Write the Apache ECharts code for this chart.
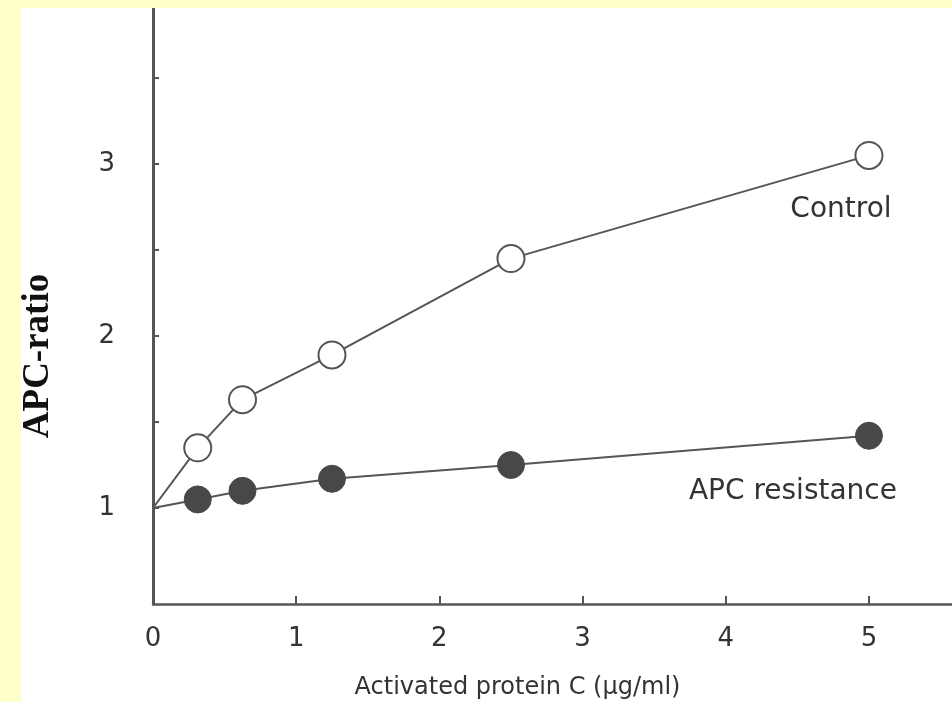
<!DOCTYPE html>
<html>
<head>
<meta charset="utf-8">
<script src="https://cdn.jsdelivr.net/npm/echarts@6/dist/echarts.min.js"></script>
<style>
  html, body { margin: 0; padding: 0; background: #ffffcc; }
  #wrap { position: relative; width: 952px; height: 702px; background: #ffffcc; }
  #chart { position: absolute; left: 21px; top: 8px; width: 931px; height: 694px; background: #fff; }
</style>
</head>
<body>
<div id="wrap"><div id="chart"></div></div>
<script>
// APC concentration (ug/ml), first point is the baseline without APC
const apcDose = [0, 0.3125, 0.625, 1.25, 2.5, 5];
const controlRatio = [1, 1.35, 1.63, 1.89, 2.45, 3.05];
const resistRatio = [1, 1.05, 1.1, 1.17, 1.25, 1.42];
const xTicks = [0, 1, 2, 3, 4, 5];
const yTicks = [1, 1.5, 2, 2.5, 3, 3.5];
const yLabels = [1, 2, 3];

const GREY = '#555';

const buildData = (ys, name, lbl) => apcDose.map((x, i) => {
  const item = { value: [x, ys[i]] };
  if (i === 0) item.symbol = 'none';
  if (i === apcDose.length - 1) {
    item.label = {
      show: true,
      formatter: name,
      position: 'bottom',
      offset: lbl,
      fontFamily: 'DejaVu Sans',
      fontSize: 28,
      color: '#333'
    };
  }
  return item;
});

const chart = echarts.init(document.getElementById('chart'));
chart.setOption({
  animation: false,
  grid: { left: 132, top: 0, right: 0, bottom: 98, outerBoundsMode: 'none', containLabel: false },
  xAxis: {
    type: 'value',
    min: 0,
    max: 5.58,
    interval: 1,
    name: 'Activated protein C (\u00b5g/ml)',
    nameLocation: 'middle',
    nameGap: 72,
    nameTextStyle: {
      fontFamily: 'DejaVu Sans', fontSize: 24, color: '#333',
      padding: [0, 70, 0, 0]
    },
    axisLine: { lineStyle: { color: GREY, width: 2.5 } },
    axisTick: { inside: true, length: 8, lineStyle: { color: GREY, width: 2 }, customValues: xTicks.slice(1) },
    axisLabel: {
      customValues: xTicks,
      margin: 22,
      fontFamily: 'DejaVu Sans',
      fontSize: 26,
      color: '#333'
    },
    splitLine: { show: false }
  },
  yAxis: {
    type: 'value',
    min: 0.442,
    max: 3.907,
    name: 'APC-ratio',
    nameLocation: 'middle',
    nameGap: 96,
    nameTextStyle: {
      fontFamily: 'Liberation Serif', fontWeight: 'bold', fontSize: 37, color: '#111',
      padding: [0, 100, 0, 0]
    },
    axisLine: { lineStyle: { color: GREY, width: 3 } },
    axisTick: { inside: true, length: 6, lineStyle: { color: GREY, width: 2 }, customValues: yTicks },
    axisLabel: {
      customValues: yLabels,
      margin: 38,
      fontFamily: 'DejaVu Sans',
      fontSize: 26,
      color: '#333'
    },
    splitLine: { show: false }
  },
  series: [
    {
      name: 'Control',
      type: 'line',
      data: buildData(controlRatio, 'Control', [-28, 21]),
      symbol: 'circle',
      symbolSize: 27,
      lineStyle: { color: GREY, width: 2 },
      itemStyle: { color: '#fff', borderColor: GREY, borderWidth: 2 },
      z: 3
    },
    {
      name: 'APC resistance',
      type: 'line',
      data: buildData(resistRatio, 'APC resistance', [-76, 23]),
      symbol: 'circle',
      symbolSize: 27,
      lineStyle: { color: GREY, width: 2 },
      itemStyle: { color: '#484848', borderColor: '#484848', borderWidth: 1 },
      z: 2
    }
  ]
});
</script>
</body>
</html>
